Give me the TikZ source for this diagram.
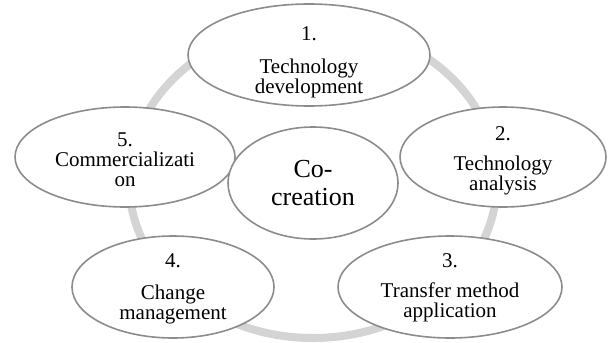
\documentclass[tikz,border=0pt]{standalone}
\usepackage{fontspec}
\setmainfont{Liberation Serif}
\usepackage{tikz}
\usetikzlibrary{shapes.geometric, positioning}

\definecolor{ringgray}{HTML}{D4D4D4}
\definecolor{edgegray}{HTML}{8C8C8C}

\begin{document}
\begin{tikzpicture}[
      x=0.5pt, y=-0.5pt,
      stage/.style={
         ellipse,
         draw=edgegray,
         line width=0.8pt,
         fill=white,
         inner sep=0pt},
      stagetext/.style={
         align=center,
         inner sep=0pt,
         font=\fontsize{10.5}{10}\selectfont},
      hubcircle/.style={
         stage,
         align=center,
         font=\fontsize{13}{14}\selectfont},
      ring/.style={
         draw=ringgray,
         line width=4pt}
      ]
      \useasboundingbox (0,0) rectangle (608,342);

      % grey cycle behind the stages
      \coordinate (hub) at (313,181);
      \draw [ring] (hub) ellipse [x radius=92pt, y radius=78.5pt];

      % the five stages, text sits a bit below the middle
      \node[stage, minimum width=121pt, minimum height=51pt,
         label={[stagetext, yshift=-3.75pt]center:{1.\\[6.5pt] Technology\\development}}]
         (s1) at (309,55) {};
      \node[stage, minimum width=103pt, minimum height=50pt,
         label={[stagetext, yshift=-2pt]center:{2.\\[5pt] Technology\\analysis}}]
         (s2) at (503,157) {};
      \node[stage, minimum width=112pt, minimum height=51pt,
         label={[stagetext, yshift=-0.25pt]center:{3.\\[5pt] Transfer method\\application}}]
         (s3) at (450,287) {};
      \node[stage, minimum width=101pt, minimum height=51pt,
         label={[stagetext, yshift=-1pt]center:{4.\\[6pt] Change\\management}}]
         (s4) at (173,287) {};
      \node[stage, minimum width=110pt, minimum height=50pt,
         label={[stagetext, yshift=-1.5pt]center:{5.\\Commercializati\\on}}]
         (s5) at (125,157) {};

      % centre node
      \node[hubcircle, minimum width=85pt, minimum height=56pt] (cc) at (313,183)
         {Co-\\creation};
    \end{tikzpicture}
\end{document}
